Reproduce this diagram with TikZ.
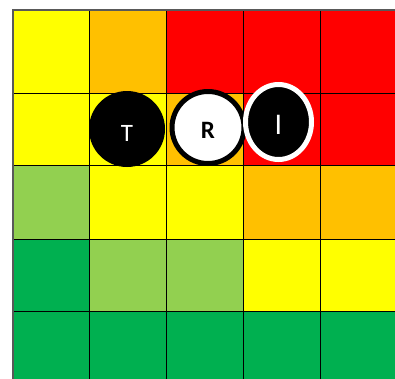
\documentclass[tikz,border=0pt]{standalone}
\usepackage{fontspec}
\setmainfont{Carlito}
\usetikzlibrary{shapes.geometric}
\definecolor{cY}{HTML}{FFFF00}
\definecolor{cO}{HTML}{FFC000}
\definecolor{cR}{HTML}{FF0000}
\definecolor{cL}{HTML}{92D050}
\definecolor{cG}{HTML}{00B050}
\tikzset{gridline/.style={draw=black,line width=0.9pt}}
\begin{document}
\begin{tikzpicture}[x=1pt,y=-1pt]
\useasboundingbox (0,0) rectangle (395,378);
\fill[white] (0,0) rectangle (395,378);
\def\xs{{12.7,89.5,166.5,243.5,320.6,397.7}}
\foreach \col [count=\c from 0] in {cY,cO,cR,cR,cR}{\pgfmathsetmacro\xa{\xs[\c]}\pgfmathsetmacro\xb{\xs[\c+1]}\fill[\col] (\xa,10) rectangle (\xb,93.3);}
\foreach \col [count=\c from 0] in {cY,cY,cO,cR,cR}{\pgfmathsetmacro\xa{\xs[\c]}\pgfmathsetmacro\xb{\xs[\c+1]}\fill[\col] (\xa,93.3) rectangle (\xb,165.8);}
\foreach \col [count=\c from 0] in {cL,cY,cY,cO,cO}{\pgfmathsetmacro\xa{\xs[\c]}\pgfmathsetmacro\xb{\xs[\c+1]}\fill[\col] (\xa,165.8) rectangle (\xb,239);}
\foreach \col [count=\c from 0] in {cG,cL,cL,cY,cY}{\pgfmathsetmacro\xa{\xs[\c]}\pgfmathsetmacro\xb{\xs[\c+1]}\fill[\col] (\xa,239) rectangle (\xb,311.7);}
\foreach \col [count=\c from 0] in {cG,cG,cG,cG,cG}{\pgfmathsetmacro\xa{\xs[\c]}\pgfmathsetmacro\xb{\xs[\c+1]}\fill[\col] (\xa,311.7) rectangle (\xb,385);}
\foreach \x in {89.5,166.5,243.5,320.6}{\draw[gridline] (\x,10) -- (\x,385);}
\foreach \y in {93.3,165.8,239,311.7}{\draw[gridline] (12.7,\y) -- (397.7,\y);}
\draw[black!65,line width=1.6pt] (12.7,385) -- (12.7,10) -- (397.7,10);
\node[circle,fill=black,minimum size=76pt,inner sep=0pt,
  label={[text=white,inner sep=0pt,yshift=-4.5pt,font=\fontsize{25}{25}\selectfont]center:T}] (T) at (127,129) {};
\node[circle,fill=white,draw=black,line width=5pt,minimum size=72pt,inner sep=0pt,
  label={[text=black,inner sep=0pt,yshift=-3pt,font=\bfseries\fontsize{25}{25}\selectfont]center:R}] (R) at (208,127.5) {};
\node[ellipse,fill=black,draw=white,line width=5pt,minimum width=66pt,minimum height=75pt,inner sep=0pt,
  label={[text=white,inner sep=0pt,yshift=-3pt,font=\fontsize{30}{30}\selectfont]center:I}] (I) at (278.5,122) {};
\end{tikzpicture}
\end{document}
